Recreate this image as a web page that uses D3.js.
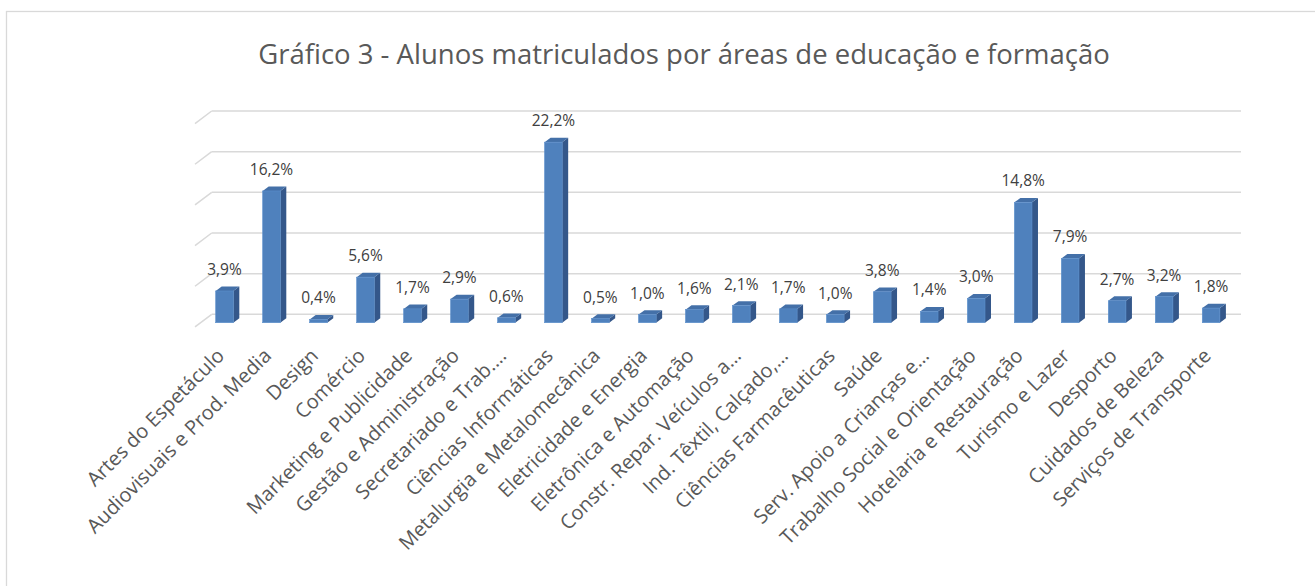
<!DOCTYPE html>
<html>
<head>
<meta charset="utf-8">
<script src="https://cdn.jsdelivr.net/npm/d3@7"></script>
<style>
  body { margin: 0; background: #fff; }
  text { font-family: "Open Sans", sans-serif; }
</style>
</head>
<body>
<script>
// DATA
var categories = ["Artes do Espetáculo", "Audiovisuais e Prod. Media", "Design", "Comércio",
  "Marketing e Publicidade", "Gestão e Administração", "Secretariado e Trab.…", "Ciências Informáticas",
  "Metalurgia e Metalomecânica", "Eletricidade e Energia", "Eletrônica e Automação", "Constr. Repar. Veículos a…",
  "Ind. Têxtil, Calçado,…", "Ciências Farmacêuticas", "Saúde", "Serv. Apoio a Crianças e…",
  "Trabalho Social e Orientação", "Hotelaria e Restauração", "Turismo e Lazer", "Desporto",
  "Cuidados de Beleza", "Serviços de Transporte"];
var values = [3.9, 16.2, 0.4, 5.6, 1.7, 2.9, 0.6, 22.2, 0.5, 1.0, 1.6, 2.1, 1.7, 1.0, 3.8, 1.4, 3.0, 14.8, 7.9, 2.7, 3.2, 1.8];
var gridTicks = [0, 5, 10, 15, 20, 25];
var title = "Gráfico 3 - Alunos matriculados por áreas de educação e formação";

var svg = d3.select("body").append("svg")
  .attr("width", 1315)
  .attr("height", 586);

// chart border
svg.append("rect")
  .attr("x", 6.5).attr("y", 11.5)
  .attr("width", 1330).attr("height", 600)
  .attr("fill", "#fff")
  .attr("stroke", "#d9d9d9")
  .attr("stroke-width", 1.3);

// title
svg.append("text")
  .attr("x", 684).attr("y", 64)
  .attr("text-anchor", "middle")
  .style("font-size", "27.5px")
  .style("fill", "#595959")
  .text(title);

// scales
var x = d3.scaleBand()
  .domain(categories)
  .range([211, 1224.6])
  .paddingInner(0.625)
  .paddingOuter(0.1);

var yFront = d3.scaleLinear().domain([0, 25]).range([322.7, 119.4]);
var yBack = d3.scaleLinear().domain([0, 25]).range([314.3, 111]);

var dx = 6, dy = -4.4; // bar depth
var wallLeft = 211.7, wallRight = 1241;

// gridlines on back wall + side wall
var grid = svg.append("g").attr("class", "grid");
grid.selectAll(".hline")
  .data(gridTicks)
  .enter().append("line")
  .attr("x1", wallLeft).attr("x2", wallRight)
  .attr("y1", function(d) { return yBack(d); })
  .attr("y2", function(d) { return yBack(d); })
  .attr("stroke", "#d9d9d9")
  .attr("stroke-width", 1.5);
grid.selectAll(".dline")
  .data(gridTicks)
  .enter().append("line")
  .attr("x1", wallLeft).attr("x2", wallLeft - 16.7)
  .attr("y1", function(d) { return yBack(d); })
  .attr("y2", function(d) { return yBack(d) + 12.6; })
  .attr("stroke", "#d9d9d9")
  .attr("stroke-width", 1.5);

// bars
var bw = x.bandwidth();
var bars = svg.append("g").selectAll(".bar")
  .data(values)
  .enter().append("g")
  .attr("class", "bar");

// side face
bars.append("polygon")
  .attr("points", function(d, i) {
    var x0 = x(categories[i]) + bw, yt = yFront(d), yb = yFront(0);
    return [[x0, yt], [x0 + dx, yt + dy], [x0 + dx, yb + dy], [x0, yb]].join(" ");
  })
  .attr("fill", "#34578a");

// top face
bars.append("polygon")
  .attr("points", function(d, i) {
    var x0 = x(categories[i]), yt = yFront(d);
    return [[x0, yt], [x0 + dx, yt + dy], [x0 + bw + dx, yt + dy], [x0 + bw, yt]].join(" ");
  })
  .attr("fill", "#4470a8");

// front face
bars.append("rect")
  .attr("x", function(d, i) { return x(categories[i]); })
  .attr("y", function(d) { return yFront(d); })
  .attr("width", bw)
  .attr("height", function(d) { return yFront(0) - yFront(d); })
  .attr("fill", "#4f81bd")
  .attr("stroke", "#5b8fcc")
  .attr("stroke-width", 0.6);

// data labels
var fmt = d3.format(".1f");
bars.append("text")
  .attr("x", function(d, i) { return x(categories[i]) + bw / 2; })
  .attr("y", function(d) { return yFront(d) - 16; })
  .attr("text-anchor", "middle")
  .style("font-size", "15.5px")
  .style("fill", "#404040")
  .text(function(d) { return fmt(d).replace(".", ",") + "%"; });

// category labels
svg.append("g").selectAll(".cat")
  .data(categories)
  .enter().append("text")
  .attr("class", "cat")
  .attr("transform", function(d) {
    return "translate(" + (x(d) + bw / 2 + 1) + ",357) rotate(-45)";
  })
  .attr("text-anchor", "end")
  .style("font-size", "20px")
  .style("fill", "#595959")
  .text(function(d) { return d; });
</script>
</body>
</html>
